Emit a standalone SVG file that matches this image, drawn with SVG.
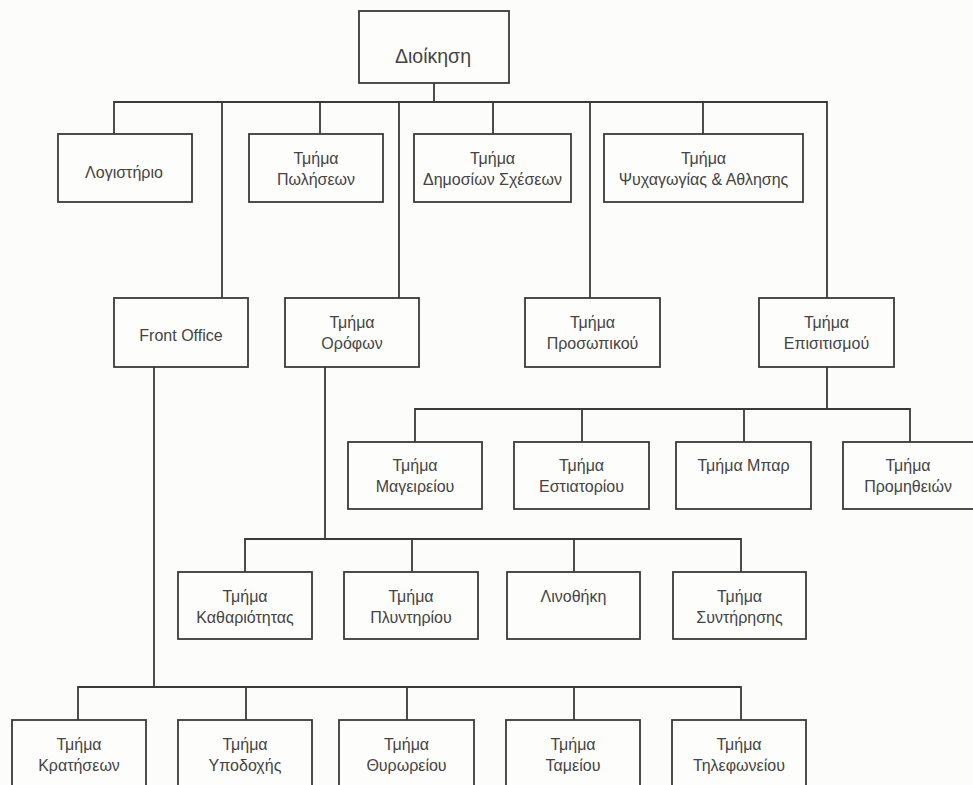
<svg xmlns="http://www.w3.org/2000/svg" width="973" height="785" viewBox="0 0 973 785">
<style>
.bg{fill:#fcfcfa}
.box{fill:#fdfdfb;stroke:#3a3a3a;stroke-width:1.8}
.ln{stroke:#3a3a3a;stroke-width:1.8;fill:none;stroke-linecap:square}
text{font-family:"Liberation Sans",Arial,sans-serif;font-size:16px;fill:#444;text-anchor:middle}
.big{font-size:19.5px}
</style>
<rect class="bg" x="0" y="0" width="973" height="785"/>
<g id="connectors">
<path class="ln" d="M434,83V102M114,102H827M114,102V134M320,102V134M493,102V134M703,102V134M222,102V298M399,102V298M590,102V298M827,102V298"/>
<path class="ln" d="M154,367V687M78,687H741M78,687V720M246,687V720M407,687V720M574,687V720M741,687V720"/>
<path class="ln" d="M325,367V539M245,539H741M245,539V572M412,539V572M574,539V572M741,539V572"/>
<path class="ln" d="M827,367V409M415,409H910M415,409V442M582,409V442M744,409V442M910,409V442"/>
</g>
<g id="n-dioikisi"><rect class="box" x="359" y="11" width="150" height="72"/><text class="big" x="433" y="63">Διοίκηση</text></g>
<g id="n-logistirio"><rect class="box" x="58" y="134" width="134" height="68"/><text x="124" y="178">Λογιστήριο</text></g>
<g id="n-poliseon"><rect class="box" x="249" y="134" width="134" height="68"/><text x="316" y="164">Τμήμα</text><text x="316" y="185">Πωλήσεων</text></g>
<g id="n-dimosion"><rect class="box" x="414" y="134" width="157" height="68"/><text x="492.5" y="164">Τμήμα</text><text x="492.5" y="185">Δημοσίων Σχέσεων</text></g>
<g id="n-psychagogias"><rect class="box" x="604" y="134" width="199" height="68"/><text x="703.5" y="164">Τμήμα</text><text x="703.5" y="185">Ψυχαγωγίας &amp; Αθλησης</text></g>
<g id="n-frontoffice"><rect class="box" x="114" y="298" width="134" height="69"/><text x="181" y="341">Front Office</text></g>
<g id="n-orofon"><rect class="box" x="285" y="298" width="134" height="69"/><text x="352" y="328">Τμήμα</text><text x="352" y="349">Ορόφων</text></g>
<g id="n-prosopikou"><rect class="box" x="525" y="298" width="135" height="69"/><text x="592.5" y="328">Τμήμα</text><text x="592.5" y="349">Προσωπικού</text></g>
<g id="n-epistismou"><rect class="box" x="759" y="298" width="135" height="69"/><text x="826.5" y="328">Τμήμα</text><text x="826.5" y="349">Επισιτισμού</text></g>
<g id="n-mageireiou"><rect class="box" x="348" y="442" width="134" height="67"/><text x="415" y="471">Τμήμα</text><text x="415" y="492">Μαγειρείου</text></g>
<g id="n-estiatoriou"><rect class="box" x="514" y="442" width="135" height="67"/><text x="581.5" y="471">Τμήμα</text><text x="581.5" y="492">Εστιατορίου</text></g>
<g id="n-bar"><rect class="box" x="676" y="442" width="135" height="67"/><text x="743.5" y="471">Τμήμα Μπαρ</text></g>
<g id="n-promitheion"><rect class="box" x="843" y="442" width="134" height="67"/><text x="908" y="471">Τμήμα</text><text x="908" y="492">Προμηθειών</text></g>
<g id="n-katharioti"><rect class="box" x="178" y="572" width="134" height="67"/><text x="245" y="602">Τμήμα</text><text x="245" y="623">Καθαριότητας</text></g>
<g id="n-plyntiriou"><rect class="box" x="344" y="572" width="134" height="67"/><text x="411" y="602">Τμήμα</text><text x="411" y="623">Πλυντηρίου</text></g>
<g id="n-linothiki"><rect class="box" x="507" y="572" width="133" height="67"/><text x="573.5" y="602">Λινοθήκη</text></g>
<g id="n-syntirisis"><rect class="box" x="673" y="572" width="133" height="67"/><text x="739.5" y="602">Τμήμα</text><text x="739.5" y="623">Συντήρησης</text></g>
<g id="n-kratiseon"><rect class="box" x="12" y="720" width="134" height="75"/><text x="79" y="750">Τμήμα</text><text x="79" y="771">Κρατήσεων</text></g>
<g id="n-ypodochis"><rect class="box" x="178" y="720" width="134" height="75"/><text x="245" y="750">Τμήμα</text><text x="245" y="771">Υποδοχής</text></g>
<g id="n-thyroreiou"><rect class="box" x="339" y="720" width="135" height="75"/><text x="406.5" y="750">Τμήμα</text><text x="406.5" y="771">Θυρωρείου</text></g>
<g id="n-tameiou"><rect class="box" x="506" y="720" width="134" height="75"/><text x="573" y="750">Τμήμα</text><text x="573" y="771">Ταμείου</text></g>
<g id="n-tilefoneiou"><rect class="box" x="672" y="720" width="134" height="75"/><text x="739" y="750">Τμήμα</text><text x="739" y="771">Τηλεφωνείου</text></g>
</svg>
